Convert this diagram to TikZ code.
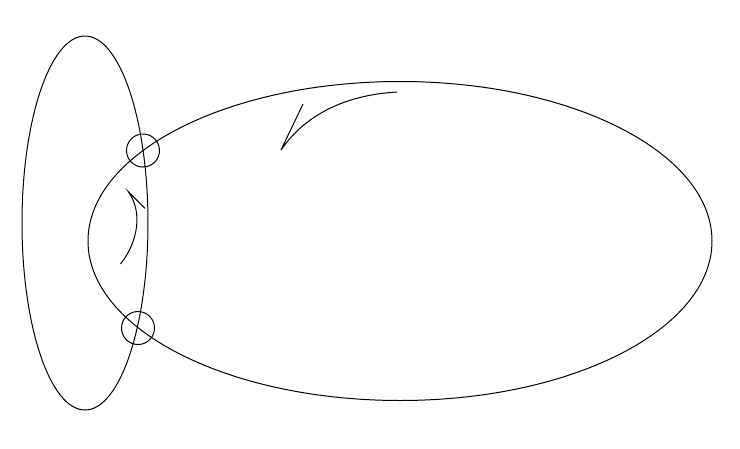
\documentclass[tikz,border=0pt]{standalone}
\begin{document}
\begin{tikzpicture}[x=1pt,y=-1pt,line width=1pt,
  outline/.style={draw=black},
  turnline/.style={draw=black}]
\useasboundingbox (0,0) rectangle (740,448);
\coordinate (cL) at (85,223);
\coordinate (cB) at (400,241);
\draw[outline] (cL) ellipse [x radius=63, y radius=187];
\draw[outline] (cB) ellipse [x radius=312, y radius=159.5];
\coordinate (p1) at (143,150.5);
\coordinate (p2) at (138,328);
\draw[outline] (p1) circle [radius=16.5];
\draw[outline] (p2) circle [radius=16.5];
% top turning arrow
\coordinate (a1s) at (397,92);
\coordinate (a1t) at (281,150);
\coordinate (a1k) at (303,104);
\draw[turnline] (a1s) .. controls (345,95) and (305,115) .. (a1t) -- (a1k);
% left turning arrow
\coordinate (a2s) at (120.5,264);
\coordinate (a2t) at (128.3,191.7);
\coordinate (a2k) at (145,208.3);
\draw[turnline] (a2s) .. controls (138,242) and (143,212) .. (a2t) -- (a2k);
\end{tikzpicture}
\end{document}
